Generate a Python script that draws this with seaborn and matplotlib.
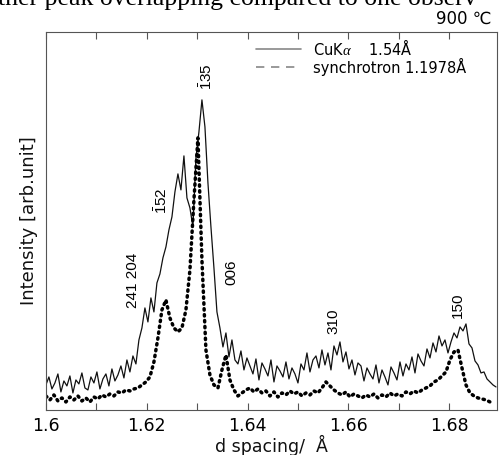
import numpy as np
import pandas as pd
import matplotlib
matplotlib.use('Agg')
import matplotlib.pyplot as plt
from matplotlib.lines import Line2D
import seaborn as sns

# CuK-alpha scan, sampled evenly from d = 1.6 to 1.6893
cuka_d_range = (1.6, 1.6893)
cuka_int = [25, 33, 21, 27, 36, 18, 29, 24, 34, 17, 30, 26, 37, 22, 20, 33, 27, 38, 21, 31,
            36, 24, 41, 29, 35, 44, 32, 50,
            38, 54, 46, 70, 82, 102, 88, 112, 98, 127, 136, 152, 163, 180, 193, 218, 236, 220,
            254, 212, 202, 183, 252, 278, 310, 283, 227, 183, 142, 98, 82, 63,
            77, 53, 70, 50, 46, 59, 40, 52, 44, 36, 51, 30, 47, 41, 34, 50, 28, 44, 39, 33,
            48, 31, 42, 36, 27, 46, 40, 57, 38, 50, 54, 42, 60, 45, 57, 40, 64, 55, 68, 48,
            58, 41, 50, 35, 47, 44, 29, 42, 36, 31, 45, 27, 40, 33, 25, 43, 37, 30, 48, 34,
            46, 40, 53, 37, 56, 49, 44, 61, 52, 67, 58, 74, 64, 70, 57, 68, 77, 72, 83, 79,
            86, 66, 62, 49, 45, 37, 38, 31, 28, 25, 23]

# synchrotron scan, sampled evenly from d = 1.6 to 1.6889
sync_d_range = (1.6, 1.6889)
sync_int = [14, 10, 15, 9, 12, 8, 13, 10, 14, 9, 12, 8, 13, 11, 15, 13, 16, 14, 18, 17,
            20, 19, 21, 22, 25, 28, 33, 48, 72, 100, 110, 92, 82, 78, 82, 100, 140, 210, 272, 150,
            60, 35, 25, 22, 40, 55, 30, 20, 14, 17, 20, 22, 18, 21, 17, 19, 14, 18, 13, 17,
            15, 19, 16, 18, 14, 17, 15, 19, 17, 22, 28, 24, 20, 17, 15, 18, 13, 16, 14, 12,
            15, 13, 16, 12, 15, 13, 17, 14, 16, 14, 18, 16, 19, 17, 20, 22, 24, 28, 30, 34,
            38, 50, 58, 60, 42, 25, 17, 14, 12, 11, 10, 8, 7]

# reflection labels: text, d position, height
peak_labels = [r'$\mathregular{\bar{1}35}$', r'$\mathregular{\bar{1}52}$', '241 204', '006', '310', '150']
peak_d = [1.6318, 1.6230, 1.6173, 1.6367, 1.6571, 1.6818]
peak_h = [333, 209, 130, 138, 89, 105]

legend_labels = [r'CuK$\alpha$    1.54Å', 'synchrotron 1.1978Å']

sns.set_style('ticks')
plt.rcParams['font.family'] = ['DejaVu Sans']
plt.rcParams['text.color'] = 'black'
plt.rcParams['axes.labelcolor'] = '#111111'
plt.rcParams['xtick.labelcolor'] = 'black'
plt.rcParams['mathtext.fontset'] = 'custom'
plt.rcParams['mathtext.rm'] = 'Liberation Sans'
plt.rcParams['mathtext.it'] = 'Liberation Serif:italic'

cuka = pd.DataFrame({'d': np.linspace(*cuka_d_range, len(cuka_int)), 'I': cuka_int})
sync = pd.DataFrame({'d': np.linspace(*sync_d_range, len(sync_int)), 'I': sync_int})

fig = plt.figure(figsize=(4.99, 4.55), dpi=100)
ax = fig.add_axes([0.092, 0.099, 0.904, 0.831])

sns.lineplot(data=cuka, x='d', y='I', ax=ax, color='#111111', linewidth=0.9, legend=False)
sns.lineplot(data=sync, x='d', y='I', ax=ax, color='black', linewidth=2.5,
             linestyle=(0, (0.4, 1.3)), dash_capstyle='round', legend=False)

ax.set_xlim(1.6, 1.6895)
ax.set_ylim(0, 378)
ax.set_xticks([1.6, 1.62, 1.64, 1.66, 1.68])
ax.set_xticklabels(['1.6', '1.62', '1.64', '1.66', '1.68'], fontsize=12.5)
ax.set_xticks(np.arange(1.61, 1.69, 0.02), minor=True)
ax.tick_params(axis='x', which='both', direction='in', top=True, length=5, width=0.8, color='#555555', pad=5)
ax.set_yticks([])
for s in ax.spines.values():
    s.set_color('#555555')
    s.set_linewidth(0.8)

ax.set_xlabel('d spacing/  Å', fontsize=12.5, labelpad=0)
ax.set_ylabel('Intensity [arb.unit]', fontsize=13, labelpad=6)

for lab, d, h in zip(peak_labels, peak_d, peak_h):
    ax.text(d, h, lab, rotation=90, ha='center', va='center', fontsize=11,
            family=['Liberation Sans Narrow', 'Liberation Sans'])

handles = [Line2D([], [], color='#888888', lw=1.2),
           Line2D([], [], color='#888888', lw=1.2, linestyle=(0, (5, 4)))]
ax.legend(handles, legend_labels, loc='upper left', bbox_to_anchor=(0.465, 0.985),
          frameon=False, prop={'family': 'DejaVu Sans', 'size': 10.5}, handlelength=3.1,
          handletextpad=0.8, labelspacing=0, borderpad=0, borderaxespad=0)

fig.text(0.985, 0.958, '900 ℃', ha='right', va='center', fontsize=12)
fig.text(-0.005, 1 - 5 / 455, 'ther peak overlapping compared to one observ',
         ha='left', va='baseline', fontsize=18.5, family='Liberation Serif')

fig.savefig('out.png', dpi=100)
